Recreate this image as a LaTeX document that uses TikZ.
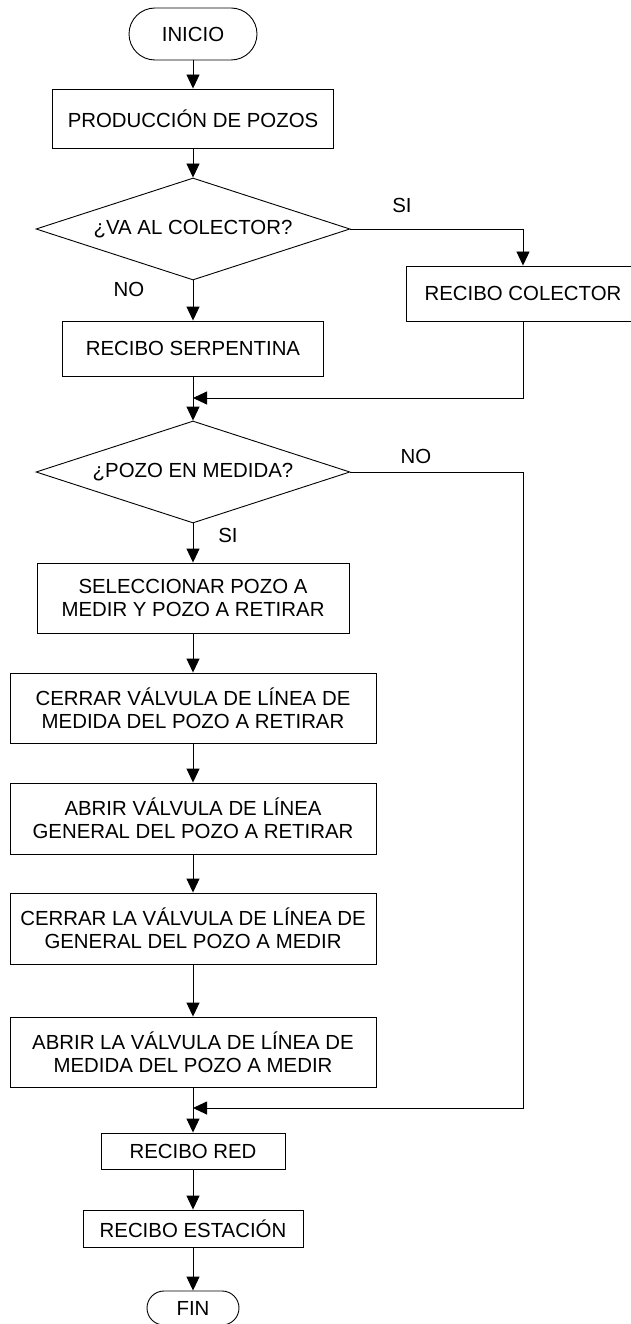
\documentclass[tikz,border=0pt]{standalone}
\usepackage{fontspec}
\setmainfont{Liberation Sans}
\usetikzlibrary{shapes.geometric,arrows.meta}
\begin{document}
\begin{tikzpicture}[x=1pt,y=-1pt,
  every node/.style={font=\fontsize{20.4}{23}\selectfont, inner sep=0pt},
  proc/.style={draw, line width=0.9pt, rectangle, align=center},
  term/.style={draw, line width=0.9pt, rectangle, rounded corners=#1},
  decis/.style={draw, line width=0.9pt, diamond, shape aspect=3.08, minimum width=314pt, minimum height=102pt},
  lbl/.style={},
  arr/.style={line width=0.9pt, -{Triangle[length=14pt,width=13pt]}},
  ln/.style={line width=0.9pt}
]
\useasboundingbox (0,0) rectangle (630,1324);
% nodes
\node[term=26pt, minimum width=128pt, minimum height=52pt] (inicio) at (193,34) {INICIO};
\node[proc, minimum width=281pt, minimum height=59pt] (prod) at (193,118.5) {PRODUCCIÓN DE POZOS};
\node[decis] (dec1) at (193,229) {¿VA AL COLECTOR?};
\node[lbl] (si1) at (402,205) {SI};
\node[lbl] (no1) at (129,289) {NO};
\node[proc, minimum width=234pt, minimum height=55pt] (colector) at (523,293.5) {RECIBO COLECTOR};
\node[proc, minimum width=261pt, minimum height=55pt] (serp) at (193,348.5) {RECIBO SERPENTINA};
\coordinate (m1) at (193,398);
\node[decis] (dec2) at (193,472) {¿POZO EN MEDIDA?};
\node[lbl] (no2) at (416,456) {NO};
\node[lbl] (si2) at (228,535) {SI};
\node[proc, minimum width=312pt, minimum height=70pt] (selec) at (193,598) {SELECCIONAR POZO A\\MEDIR Y POZO A RETIRAR};
\node[proc, minimum width=366pt, minimum height=70pt] (cerrar1) at (193,708) {CERRAR VÁLVULA DE LÍNEA DE\\MEDIDA DEL POZO A RETIRAR};
\node[proc, minimum width=366pt, minimum height=71pt] (abrir1) at (193,818.5) {ABRIR VÁLVULA DE LÍNEA\\GENERAL DEL POZO A RETIRAR};
\node[proc, minimum width=366pt, minimum height=71pt] (cerrar2) at (193,928.5) {CERRAR LA VÁLVULA DE LÍNEA DE\\GENERAL DEL POZO A MEDIR};
\node[proc, minimum width=366pt, minimum height=70pt] (abrir2) at (193,1052) {ABRIR LA VÁLVULA DE LÍNEA DE\\MEDIDA DEL POZO A MEDIR};
\coordinate (r2) at (523,1108);
\coordinate (m2) at (193,1108);
\node[proc, minimum width=184pt, minimum height=36pt] (red) at (193,1151) {RECIBO RED};
\node[proc, minimum width=220pt, minimum height=37pt] (est) at (193,1228.5) {RECIBO ESTACIÓN};
\node[term=17pt, minimum width=92pt, minimum height=34pt] (fin) at (193,1308) {FIN};
% connectors
\draw[arr] (inicio) -- (prod);
\draw[arr] (prod) -- (dec1);
\draw[arr] (dec1.east) -| (colector.north);
\draw[arr] (dec1) -- (serp);
\draw[arr] (colector.south) |- (m1);
\draw[arr] (serp) -- (dec2);
\draw[arr] (dec2.east) -| (r2) -- (m2);
\draw[arr] (dec2) -- (selec);
\draw[arr] (selec) -- (cerrar1);
\draw[arr] (cerrar1) -- (abrir1);
\draw[arr] (abrir1) -- (cerrar2);
\draw[arr] (cerrar2) -- (abrir2);
\draw[arr] (abrir2) -- (red);
\draw[arr] (red) -- (est);
\draw[arr] (est) -- (fin);
\end{tikzpicture}
\end{document}
